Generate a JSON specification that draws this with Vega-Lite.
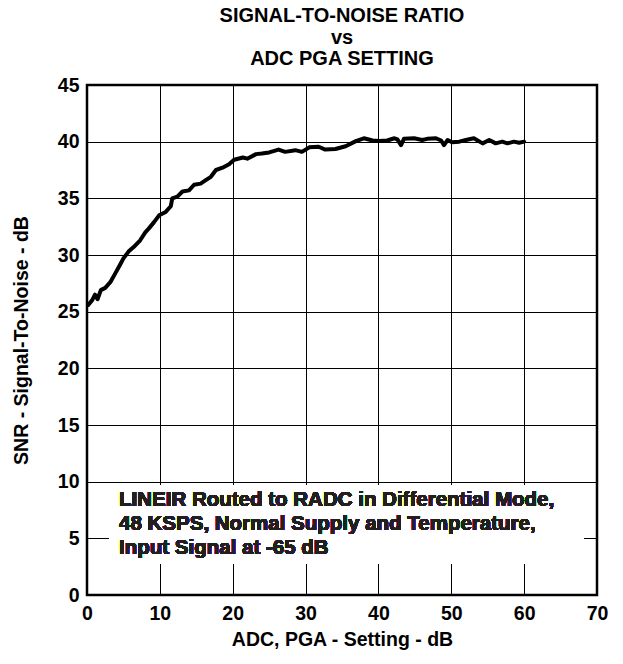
{
  "$schema": "https://vega.github.io/schema/vega-lite/v6.json",
  "autosize": "none",
  "width": 510,
  "height": 510,
  "padding": {"left": 87, "top": 85, "right": 26, "bottom": 69},
  "background": "white",
  "config": {
    "font": "Liberation Sans",
    "view": {"stroke": "black", "strokeWidth": 2.5},
    "axis": {
      "labelFont": "Liberation Sans",
      "labelFontSize": 19.5,
      "labelFontWeight": "bold",
      "labelColor": "black",
      "titleFont": "Liberation Sans",
      "titleFontSize": 19.5,
      "titleFontWeight": "bold",
      "titleColor": "black",
      "grid": true,
      "gridColor": "black",
      "gridWidth": 1,
      "gridOpacity": 1,
      "ticks": false,
      "domain": false
    }
  },
  "title": {
    "text": ["SIGNAL-TO-NOISE RATIO", "vs", "ADC PGA SETTING"],
    "font": "Liberation Sans",
    "fontSize": 20,
    "fontWeight": "bold",
    "color": "black",
    "lineHeight": 21.5,
    "anchor": "middle",
    "offset": 6
  },
  "data": {
    "values": [
      {"x": 0.2, "y": 25.6}, {"x": 0.7, "y": 26.0}, {"x": 1.1, "y": 26.5}, {"x": 1.45, "y": 26.1},
      {"x": 1.9, "y": 26.9}, {"x": 2.5, "y": 27.1}, {"x": 3.2, "y": 27.6}, {"x": 3.9, "y": 28.4},
      {"x": 4.5, "y": 29.1}, {"x": 5.0, "y": 29.7}, {"x": 5.7, "y": 30.3}, {"x": 6.4, "y": 30.7},
      {"x": 7.3, "y": 31.3}, {"x": 8.0, "y": 32.0}, {"x": 8.5, "y": 32.35}, {"x": 9.2, "y": 32.9},
      {"x": 9.9, "y": 33.5}, {"x": 10.8, "y": 33.8}, {"x": 11.5, "y": 34.3}, {"x": 11.7, "y": 35.0},
      {"x": 12.4, "y": 35.15}, {"x": 13.1, "y": 35.6}, {"x": 14.0, "y": 35.7}, {"x": 14.7, "y": 36.2},
      {"x": 15.6, "y": 36.3}, {"x": 16.3, "y": 36.6}, {"x": 17.0, "y": 36.9}, {"x": 17.7, "y": 37.5},
      {"x": 18.6, "y": 37.7}, {"x": 19.5, "y": 38.0}, {"x": 20.2, "y": 38.4}, {"x": 21.4, "y": 38.6},
      {"x": 22.0, "y": 38.5}, {"x": 23.2, "y": 38.9}, {"x": 24.0, "y": 38.95}, {"x": 25.0, "y": 39.05},
      {"x": 26.3, "y": 39.3}, {"x": 27.2, "y": 39.1}, {"x": 28.6, "y": 39.25}, {"x": 29.5, "y": 39.1},
      {"x": 30.5, "y": 39.5}, {"x": 31.8, "y": 39.55}, {"x": 32.7, "y": 39.3}, {"x": 34.1, "y": 39.35},
      {"x": 35.5, "y": 39.6}, {"x": 36.9, "y": 40.05}, {"x": 38.0, "y": 40.3}, {"x": 39.2, "y": 40.1},
      {"x": 40.1, "y": 40.05}, {"x": 41.2, "y": 40.1}, {"x": 42.2, "y": 40.3}, {"x": 42.6, "y": 40.2},
      {"x": 43.1, "y": 39.7}, {"x": 43.5, "y": 40.25}, {"x": 44.9, "y": 40.3}, {"x": 46.0, "y": 40.15},
      {"x": 46.7, "y": 40.25}, {"x": 47.9, "y": 40.3}, {"x": 48.6, "y": 40.1}, {"x": 49.0, "y": 39.7},
      {"x": 49.5, "y": 40.15}, {"x": 50.1, "y": 39.95}, {"x": 51.1, "y": 40.0}, {"x": 52.0, "y": 40.15},
      {"x": 53.1, "y": 40.3}, {"x": 54.3, "y": 39.85}, {"x": 55.2, "y": 40.15}, {"x": 56.1, "y": 39.85},
      {"x": 57.0, "y": 40.0}, {"x": 57.7, "y": 39.85}, {"x": 58.6, "y": 40.0}, {"x": 59.3, "y": 39.9},
      {"x": 60.0, "y": 40.0}
    ]
  },
  "layer": [
    {
      "mark": {"type": "line", "color": "black", "strokeWidth": 4, "strokeJoin": "round", "strokeCap": "round"},
      "encoding": {
        "x": {
          "field": "x", "type": "quantitative",
          "scale": {"domain": [0, 70], "nice": false, "zero": false},
          "axis": {"values": [0, 10, 20, 30, 40, 50, 60, 70], "title": "ADC, PGA - Setting - dB", "labelPadding": 9, "titlePadding": 8, "labelFlush": false}
        },
        "y": {
          "field": "y", "type": "quantitative",
          "scale": {"domain": [0, 45], "nice": false, "zero": false},
          "axis": {"values": [0, 5, 10, 15, 20, 25, 30, 35, 40, 45], "title": "SNR - Signal-To-Noise - dB", "labelPadding": 8, "titlePadding": 26, "labelFlush": false}
        }
      }
    },
    {
      "mark": {"type": "rect", "color": "white"},
      "encoding": {
        "x": {"datum": 3.1, "type": "quantitative"},
        "x2": {"datum": 68.1},
        "y": {"datum": 2.8, "type": "quantitative"},
        "y2": {"datum": 9.7}
      }
    },
    {
      "mark": {"type": "text", "align": "left", "baseline": "middle", "font": "Liberation Sans", "fontSize": 20.5, "fontWeight": "bold", "color": "#231f20", "lineHeight": 23.6},
      "encoding": {
        "x": {"datum": 4.4, "type": "quantitative"},
        "y": {"datum": 8.35, "type": "quantitative"},
        "text": {"value": ["LINEIR Routed to RADC in Differential Mode,", "48 KSPS, Normal Supply and Temperature,", "Input Signal at -65 dB"]}
      }
    }
  ]
}
